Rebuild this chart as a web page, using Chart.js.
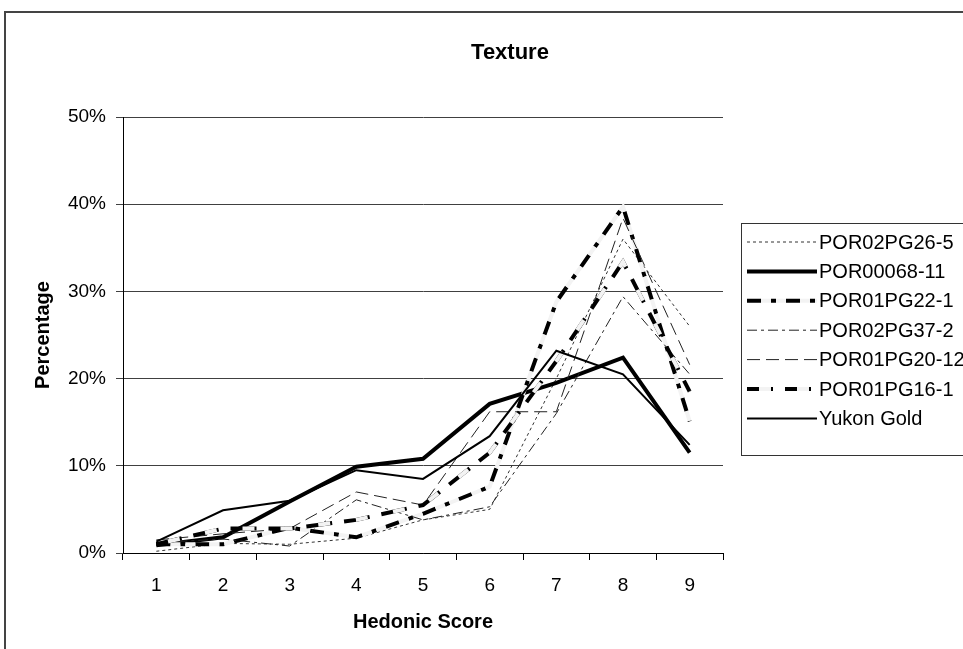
<!DOCTYPE html>
<html>
<head>
<meta charset="utf-8">
<title>Texture</title>
<script src="https://cdn.jsdelivr.net/npm/chart.js@4.4.1/dist/chart.umd.min.js"></script>
<style>
  html, body { margin: 0; padding: 0; background: #fff; }
  #wrap { width: 963px; height: 649px; }
</style>
</head>
<body>
<div id="wrap"><canvas id="textureChart" width="963" height="649"></canvas></div>
<script>
// categories and values (percent of panel per hedonic score)
const hedonicScores = ["1", "2", "3", "4", "5", "6", "7", "8", "9"];
const yTickValues = [0, 10, 20, 30, 40, 50];

const por02pg26_5  = [0.2, 1.1, 1.0, 1.7, 3.8, 5.0, 20.0, 36.0, 26.0];
const por00068_11  = [0.9, 1.8, 5.9, 9.9, 10.8, 17.1, 19.5, 22.4, 11.5];
const por01pg22_1  = [1.0, 1.0, 2.9, 1.8, 4.5, 7.6, 28.8, 39.7, 15.1];
const por02pg37_2  = [1.2, 1.6, 0.8, 6.1, 3.8, 5.3, 16.0, 29.4, 20.5];
const por01pg20_12 = [1.5, 2.2, 2.8, 7.0, 5.5, 16.2, 16.2, 38.4, 21.6];
const por01pg16_1  = [1.0, 2.8, 2.8, 3.8, 5.5, 11.5, 22.0, 33.4, 18.5];
const yukonGold    = [1.3, 4.9, 6.0, 9.5, 8.5, 13.4, 23.2, 20.5, 12.4];

const FONT = "'Liberation Sans', Arial, sans-serif";

function lineSet(label, data, width, dash, color, gap) {
    return {
        label: label,
        data: data,
        borderColor: color || "#000",
        borderWidth: width,
        borderDash: dash || [],
        gapColor: gap ? gap.color : null,
        gapDash: gap ? gap.dash : null,
        gapOffset: gap ? gap.offset : 0,
        pointRadius: 0,
        pointHoverRadius: 0,
        tension: 0,
        fill: false
    };
}

const datasets = [
    lineSet("POR02PG26-5", por02pg26_5, 1, [3, 3], "#333"),
    lineSet("POR00068-11", por00068_11, 4),
    // black dash-dot with light segments in between
    lineSet("POR01PG22-1", por01pg22_1, 4, [14, 10, 5, 10], "#000",
        { color: "#f3f3f3", dash: [10, 5, 10, 14], offset: 25 }),
    lineSet("POR02PG37-2", por02pg37_2, 1, [10, 4, 3, 4], "#222"),
    lineSet("POR01PG20-12", por01pg20_12, 1, [13, 6], "#222"),
    lineSet("POR01PG16-1", por01pg16_1, 4, [26, 12], "#000",
        { color: "#f3f3f3", dash: [12, 26], offset: 26 }),
    lineSet("Yukon Gold", yukonGold, 2)
];
// later series drawn on top, like the original
datasets.forEach((d, i) => { d.order = -i; });

function strokeGap(ctx, pts, ds) {
    ctx.save();
    ctx.strokeStyle = ds.gapColor;
    ctx.lineWidth = ds.borderWidth;
    ctx.setLineDash(ds.gapDash);
    ctx.lineDashOffset = ds.gapOffset;
    ctx.beginPath();
    pts.forEach((p, i) => i === 0 ? ctx.moveTo(p.x, p.y) : ctx.lineTo(p.x, p.y));
    ctx.stroke();
    ctx.restore();
}

const decorPlugin = {
    id: "decor",
    beforeDraw(chart) {
        const ctx = chart.ctx;
        ctx.save();
        ctx.fillStyle = "#fff";
        ctx.fillRect(0, 0, chart.width, chart.height);
        ctx.strokeStyle = "#444";
        ctx.lineWidth = 2;
        ctx.strokeRect(5, 12, 2000, 2000);
        ctx.restore();
    },
    afterDatasetDraw(chart, args) {
        const ds = chart.data.datasets[args.index];
        if (!ds.gapColor) return;
        const ctx = chart.ctx;
        const area = chart.chartArea;
        ctx.save();
        ctx.beginPath();
        ctx.rect(area.left, area.top - 5, area.right - area.left, area.bottom - area.top + 10);
        ctx.clip();
        strokeGap(ctx, args.meta.data, ds);
        ctx.restore();
    },
    afterDraw(chart) {
        const ctx = chart.ctx;
        const area = chart.chartArea;
        ctx.save();
        ctx.fillStyle = "#000";
        ctx.textAlign = "center";
        ctx.textBaseline = "middle";
        ctx.font = "bold 22px " + FONT;
        ctx.fillText("Texture", 510, 53);
        ctx.font = "bold 20px " + FONT;
        ctx.fillText("Hedonic Score", (area.left + area.right) / 2, 622);
        ctx.translate(43, (area.top + area.bottom) / 2);
        ctx.rotate(-Math.PI / 2);
        ctx.fillText("Percentage", 0, 0);
        ctx.restore();

        // legend box on the right
        ctx.save();
        ctx.strokeStyle = "#333";
        ctx.lineWidth = 1;
        ctx.strokeRect(741.5, 223.5, 400, 232);
        ctx.font = "20px " + FONT;
        ctx.textBaseline = "middle";
        ctx.fillStyle = "#000";
        chart.data.datasets.forEach((ds, i) => {
            const y = 242 + i * 29.4;
            const pts = [{ x: 747, y: y }, { x: 817, y: y }];
            ctx.save();
            ctx.strokeStyle = ds.borderColor;
            ctx.lineWidth = ds.borderWidth;
            ctx.setLineDash(ds.borderDash);
            ctx.beginPath();
            ctx.moveTo(pts[0].x, y);
            ctx.lineTo(pts[1].x, y);
            ctx.stroke();
            ctx.restore();
            if (ds.gapColor) strokeGap(ctx, pts, ds);
            ctx.fillText(ds.label, 819, y + 1);
        });
        ctx.restore();
    }
};

const ctx = document.getElementById("textureChart").getContext("2d");
new Chart(ctx, {
    type: "line",
    data: {
        labels: hedonicScores,
        datasets: datasets
    },
    options: {
        responsive: false,
        animation: false,
        devicePixelRatio: 1,
        layout: {
            padding: { left: 0, top: 117, right: 240, bottom: 0 }
        },
        plugins: {
            legend: { display: false },
            title: { display: false },
            tooltip: { enabled: false }
        },
        scales: {
            x: {
                type: "category",
                offset: true,
                afterFit(scale) { scale.height = 96; },
                grid: {
                    offset: true,
                    drawOnChartArea: false,
                    color: "#000",
                    tickLength: 7
                },
                border: { color: "#000", width: 1 },
                ticks: {
                    color: "#000",
                    padding: 14,
                    maxRotation: 0,
                    font: { family: FONT, size: 19 }
                }
            },
            y: {
                min: 0,
                max: 50,
                afterFit(scale) { scale.width = 123; },
                afterBuildTicks(scale) {
                    scale.ticks = yTickValues.map(v => ({ value: v }));
                },
                grid: {
                    color: "#404040",
                    lineWidth: 1,
                    tickLength: 7
                },
                border: { color: "#000", width: 1 },
                ticks: {
                    color: "#000",
                    padding: 10,
                    font: { family: FONT, size: 19 },
                    callback: v => v + "%"
                }
            }
        }
    },
    plugins: [decorPlugin]
});
</script>
</body>
</html>
